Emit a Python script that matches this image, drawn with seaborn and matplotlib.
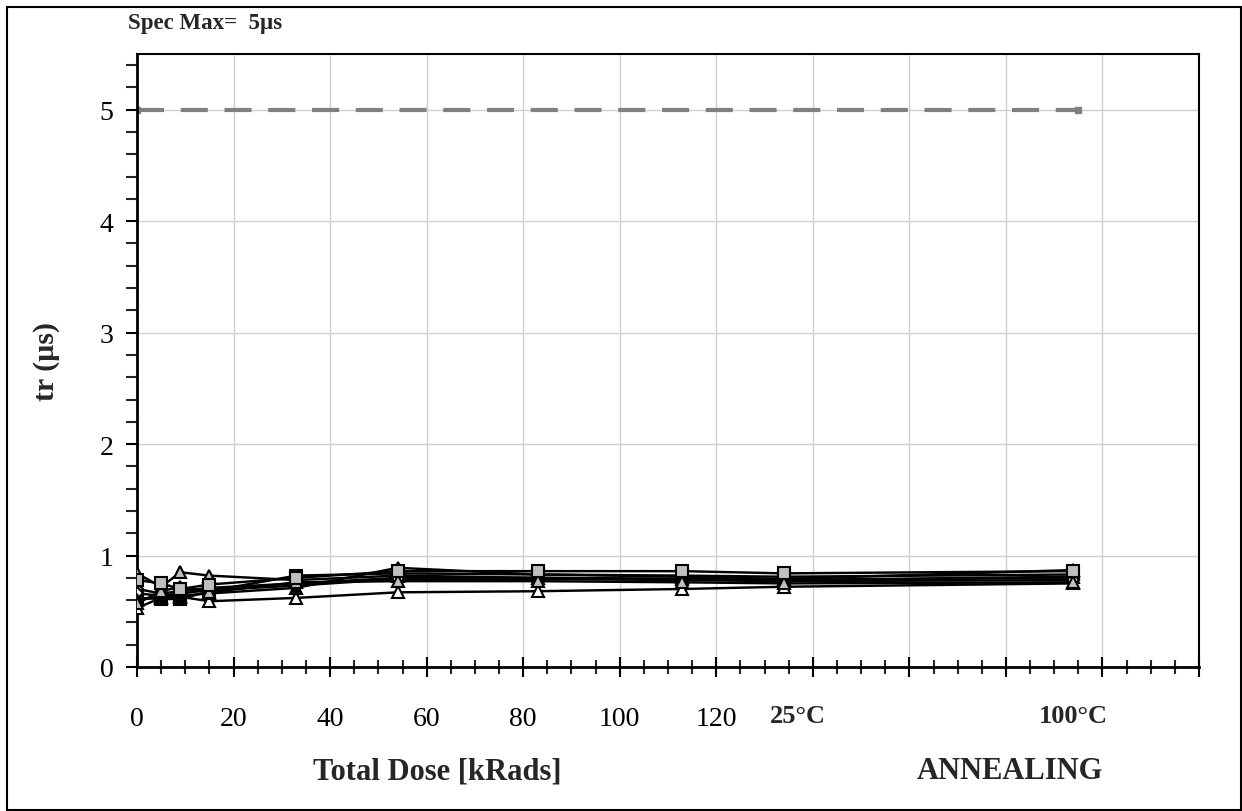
import matplotlib
matplotlib.use('Agg')
import matplotlib.pyplot as plt
import seaborn as sns
import pandas as pd
from matplotlib.ticker import MultipleLocator, FixedLocator
from matplotlib.patches import Rectangle

# total dose steps (last two points are the 25C / 100C anneals)
dose = [0, 5, 9, 15, 33, 54, 83, 113, 134, 194]

tr_a = [0.53, 0.62, 0.63, 0.59, 0.62, 0.67, 0.68, 0.70, 0.72, 0.75]
tr_b = [0.84, 0.72, 0.85, 0.82, 0.78, 0.82, 0.80, 0.79, 0.78, 0.81]
tr_d = [0.62, 0.61, 0.61, 0.68, 0.82, 0.84, 0.83, 0.82, 0.81, 0.83]
tr_c = [0.78, 0.75, 0.70, 0.74, 0.80, 0.86, 0.86, 0.86, 0.84, 0.86]
tr_e = [0.70, 0.66, 0.68, 0.71, 0.75, 0.80, 0.80, 0.79, 0.78, 0.80]
tr_f = [0.66, 0.64, 0.66, 0.69, 0.73, 0.79, 0.79, 0.78, 0.77, 0.78]
tr_g = [0.60, 0.63, 0.64, 0.66, 0.71, 0.89, 0.83, 0.81, 0.79, 0.87]
tr_h = [0.57, 0.68, 0.72, 0.67, 0.76, 0.77, 0.77, 0.76, 0.75, 0.76]

units = ['a', 'b', 'd', 'e', 'f', 'g', 'h', 'c']
values = [tr_a, tr_b, tr_d, tr_e, tr_f, tr_g, tr_h, tr_c]

spec_x = [0, 195]
spec_y = [5, 5]

x_labels = ['0', '20', '40', '60', '80', '100', '120', '', '', '', '', '']

df = pd.DataFrame({
    'dose': dose * len(units),
    'tr': [v for vals in values for v in vals],
    'unit': [u for u in units for _ in dose],
})

markers = {'a': '^', 'b': '^', 'c': 's', 'd': 's', 'e': 'D', 'f': 'D', 'g': '^', 'h': '^'}
faces = {'a': 'white', 'b': '#bfbfbf', 'c': '#bfbfbf', 'd': 'black', 'e': '#bfbfbf',
         'f': 'white', 'g': 'black', 'h': '#bfbfbf'}
sizes = {'a': 8, 'b': 8, 'c': 8, 'd': 8, 'e': 6, 'f': 6, 'g': 8, 'h': 8}

sns.set_style('white')
plt.rcParams['font.family'] = ['Liberation Serif', 'DejaVu Serif']

W, H = 1242, 812
fig = plt.figure(figsize=(W / 100, H / 100), dpi=100)
ax = fig.add_axes([137 / W, 1 - 668 / H, (1199 - 137) / W, (668 - 55) / H])

ax.plot(spec_x, spec_y, color='#808080', lw=3, dashes=(6.5, 4),
        marker='s', ms=5, markevery=[0, -1], zorder=2)

for u in units:
    sns.lineplot(data=df[df['unit'] == u], x='dose', y='tr', ax=ax,
                 color='black', lw=1.75, marker=markers[u], ms=sizes[u],
                 markerfacecolor=faces[u], markeredgecolor='black',
                 markeredgewidth=1.5, zorder=3)

ax.set_xlim(0, 220)
ax.set_ylim(0, 5.5)
ax.set_xticks(range(0, 221, 20))
ax.set_xticklabels(x_labels)
ax.xaxis.set_minor_locator(MultipleLocator(5))
ax.yaxis.set_major_locator(FixedLocator([0, 1, 2, 3, 4, 5]))
ax.yaxis.set_minor_locator(MultipleLocator(0.2))

ax.grid(True, which='major', color='#d0d0d0', lw=1)
ax.set_axisbelow(True)

ax.tick_params(axis='x', which='both', bottom=True, top=False)
ax.tick_params(axis='y', which='both', left=True, right=False)
ax.tick_params(axis='x', which='major', direction='inout', length=14, width=1.5,
               labelsize=20, pad=21, colors='black')
ax.tick_params(axis='x', which='minor', direction='inout', length=10, width=1.5)
ax.tick_params(axis='y', which='major', direction='out', length=8, width=1.5,
               labelsize=20, pad=9, colors='black')
ax.tick_params(axis='y', which='minor', direction='out', length=8, width=1.5)

for side in ['left', 'bottom']:
    ax.spines[side].set_linewidth(2)
for side in ['top', 'right']:
    ax.spines[side].set_linewidth(1.5)
for s in ax.spines.values():
    s.set_color('black')

ax.set_xlabel('')
ax.set_ylabel('')

def px(x, y):
    return x / W, 1 - y / H

# annealing labels sit on the tick-label row
fig.text(*px(798, 717), '25\u00b0C', ha='center', va='center', fontsize=19,
         fontweight='bold')
fig.text(*px(1073, 717), '100\u00b0C', ha='center', va='center', fontsize=19,
         fontweight='bold')

fig.text(*px(437, 772), 'Total Dose [kRads]', ha='center', va='center',
         fontsize=22, fontweight='bold')
fig.text(*px(1010, 772), 'ANNEALING', ha='center', va='center',
         fontsize=22, fontweight='bold')
fig.text(*px(46, 362), 'tr (\u00b5s)', ha='center', va='center',
         rotation=90, fontsize=21.5, fontweight='bold')
fig.text(*px(128, 24), 'Spec Max=  5\u00b5s', ha='left', va='center',
         fontsize=16.5, fontweight='bold')

fig.patches.append(Rectangle((7 / W, 1.5 / H), 1233.5 / W, 802.5 / H,
                             transform=fig.transFigure, fill=False,
                             edgecolor='black', lw=1.5))

fig.savefig('out.png', dpi=100)
